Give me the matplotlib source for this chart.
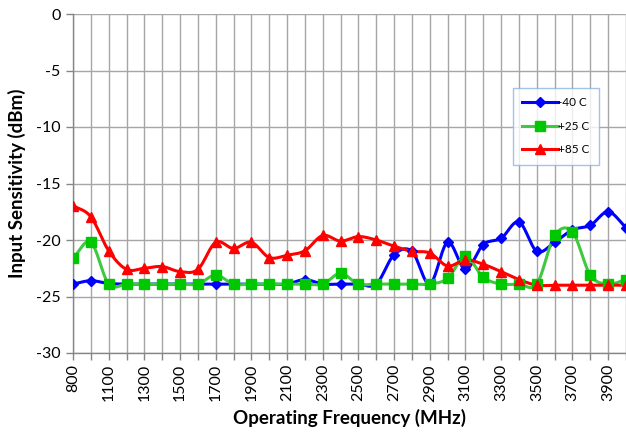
import matplotlib
matplotlib.use("Agg")
import matplotlib.pyplot as plt
import numpy as np
from matplotlib.lines import Line2D

freqs = [800, 1000, 1100, 1200, 1300, 1400, 1500, 1600, 1700, 1800, 1900, 2000,
         2100, 2200, 2300, 2400, 2500, 2600, 2700, 2800, 2900, 3000, 3100, 3200,
         3300, 3400, 3500, 3600, 3700, 3800, 3900, 4000]

m40 = [-23.9, -23.6, -23.85, -23.9, -23.9, -23.9, -23.9, -23.9, -23.9, -23.9, -23.9, -23.9,
       -23.9, -23.5, -23.9, -23.9, -23.9, -23.9, -21.3, -21.0, -23.9, -20.2, -22.6, -20.4,
       -19.85, -18.4, -21.0, -20.2, -19.1, -18.7, -17.5, -18.9]

p25 = [-21.6, -20.2, -23.9, -23.9, -23.9, -23.9, -23.9, -23.9, -23.1, -23.9, -23.9, -23.9,
       -23.9, -23.9, -23.9, -22.95, -23.9, -23.9, -23.9, -23.9, -23.9, -23.4, -21.45, -23.3,
       -23.9, -23.9, -23.9, -19.6, -19.3, -23.1, -23.9, -23.5]

p85 = [-16.95, -17.95, -20.95, -22.6, -22.5, -22.35, -22.8, -22.6, -20.2, -20.75, -20.2, -21.55,
       -21.35, -20.95, -19.6, -20.1, -19.7, -20.0, -20.55, -21.0, -21.15, -22.3, -21.75, -22.15,
       -22.8, -23.5, -24.0, -24.0, -24.0, -24.0, -24.0, -24.0]

series_names = ["-40 C", "+25 C", "+85 C"]
yticks = [0, -5, -10, -15, -20, -25, -30]


def smooth(x, y, n=20):
    # Catmull-Rom spline through points (Excel-like smoothed line)
    x = np.asarray(x, float)
    y = np.asarray(y, float)
    px = np.concatenate([[2 * x[0] - x[1]], x, [2 * x[-1] - x[-2]]])
    py = np.concatenate([[2 * y[0] - y[1]], y, [2 * y[-1] - y[-2]]])
    xs, ys = [], []
    t = np.linspace(0, 1, n, endpoint=False)
    for i in range(1, len(px) - 2):
        for P, out in ((px, xs), (py, ys)):
            p0, p1, p2, p3 = P[i - 1], P[i], P[i + 1], P[i + 2]
            v = 0.5 * ((2 * p1) + (-p0 + p2) * t + (2 * p0 - 5 * p1 + 4 * p2 - p3) * t ** 2
                       + (-p0 + 3 * p1 - 3 * p2 + p3) * t ** 3)
            out.extend(v)
    xs.append(x[-1])
    ys.append(y[-1])
    return np.array(xs), np.array(ys)


plt.rcParams['font.family'] = ['Lato', 'DejaVu Sans']

fig = plt.figure(figsize=(6.26, 4.33), dpi=100)
ax = fig.add_axes([73 / 626, 80 / 433, 553 / 626, 339 / 433])

idx = np.arange(len(freqs))
styles = [
    (m40, '#0000ff', '#0000ff', 'D', 5.5),
    (p25, '#40c840', '#00c800', 's', 6.5),
    (p85, '#ff0000', '#ff0000', '^', 7),
]
handles = []
for (vals, lc, mc, mk, ms), name in zip(styles, series_names):
    sx, sy = smooth(idx, vals)
    ax.plot(sx, sy, color=lc, lw=2.2, zorder=3)
    ax.plot(idx, vals, ls='none', marker=mk, ms=ms, color=mc, mec=mc, zorder=4)
    handles.append(Line2D([0], [0], color=lc, lw=2.2, marker=mk, ms=ms, mfc=mc, mec=mc))

ax.set_xlim(0, len(freqs) - 1)
ax.set_ylim(-30, 0)
ax.set_xticks(idx)
ax.set_xticklabels([str(f) if i % 2 == 0 else '' for i, f in enumerate(freqs)],
                   rotation=90, fontsize=11.5)
ax.set_yticks(yticks)
ax.set_yticklabels([str(v) for v in yticks], fontsize=11.5)
ax.tick_params(axis='both', direction='out', length=5, color='#868686', width=1)
ax.tick_params(axis='x', pad=3)
ax.tick_params(axis='y', pad=4)

ax.grid(True, color='#a6a6a6', lw=1)
ax.set_axisbelow(True)
for s in ['top', 'right']:
    ax.spines[s].set_visible(False)
for s in ['left', 'bottom']:
    ax.spines[s].set_color('#868686')
    ax.spines[s].set_linewidth(1)

ax.set_xlabel('Operating Frequency (MHz)', fontsize=13.5, fontweight='bold', labelpad=5)
ax.set_ylabel('Input Sensitivity (dBm)', fontsize=13.5, fontweight='bold', labelpad=7)

leg = ax.legend(handles, series_names, loc='upper left',
                bbox_to_anchor=((513 - 73) / 553, (353 - 88) / 339),
                fontsize=8.5, frameon=True, fancybox=False, handlelength=3.0,
                labelspacing=1.05, borderpad=0.8, handletextpad=0.0, borderaxespad=0)
leg.get_frame().set_edgecolor('#8eb4e3')
leg.get_frame().set_linewidth(1)

fig.savefig('out.png', dpi=100)
